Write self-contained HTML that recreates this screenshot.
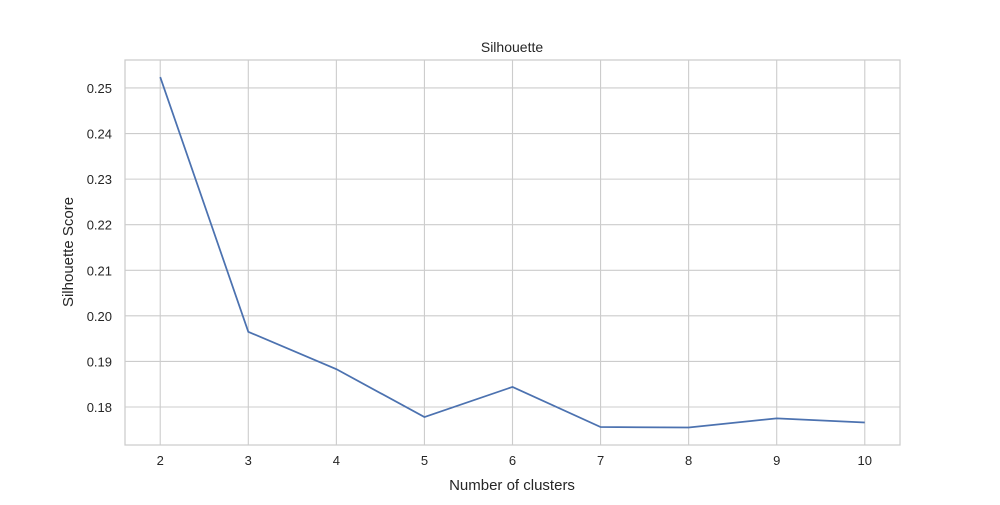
<!DOCTYPE html>
<html><head><meta charset="utf-8"><style>
body{margin:0;background:#fff;}
svg text{font-family:"Liberation Sans",sans-serif;fill:#262626;}
</style></head><body>
<svg id="chart" width="1000" height="500">
<rect x="0" y="0" width="1000" height="500" fill="#fff"/>
<g id="grid"></g>
<rect x="125" y="60" width="775" height="385" fill="none" stroke="#cccccc" stroke-width="1.25"/>
<g id="ticks"></g>
<path id="line" fill="none" stroke="#4c72b0" stroke-width="1.75"/>
<text x="512" y="52" text-anchor="middle" font-size="14">Silhouette</text>
<text x="512" y="490" text-anchor="middle" font-size="15">Number of clusters</text>
<text x="0" y="0" transform="translate(73,252) rotate(-90)" text-anchor="middle" font-size="15">Silhouette Score</text>
</svg>
<script>
const clusters=[2,3,4,5,6,7,8,9,10];
const scores=[0.2524,0.1965,0.1883,0.1778,0.1844,0.1756,0.1755,0.1775,0.1766];
const yTicks=[0.18,0.19,0.20,0.21,0.22,0.23,0.24,0.25];
const yTickLabels=["0.18","0.19","0.20","0.21","0.22","0.23","0.24","0.25"];
const L=125,R=900,T=60,B=445;
const xMin=1.6,xMax=10.4,yMin=0.17166,yMax=0.25614;
const x=v=>L+(v-xMin)/(xMax-xMin)*(R-L);
const y=v=>B-(v-yMin)/(yMax-yMin)*(B-T);
const ns="http://www.w3.org/2000/svg";
const grid=document.getElementById('grid'),ticks=document.getElementById('ticks');
function mk(tag,attrs,parent){const e=document.createElementNS(ns,tag);for(const k in attrs)e.setAttribute(k,attrs[k]);parent.appendChild(e);return e;}
clusters.forEach(c=>{
 const g=mk('line',{x1:x(c),x2:x(c),y1:T,y2:B,stroke:'#cccccc','stroke-width':1.1},grid);
 
 
 const t=mk('text',{x:x(c),y:B+20,'text-anchor':'middle','font-size':13},ticks);
 t.textContent=c;
 
 
});
yTicks.forEach((v,i)=>{
 const g=mk('line',{x1:L,x2:R,y1:y(v),y2:y(v),stroke:'#cccccc','stroke-width':1.1},grid);
 
 
 const t=mk('text',{x:L-13,y:y(v)+5,'text-anchor':'end','font-size':13},ticks);
 t.textContent=yTickLabels[i];
 
 
});
document.getElementById('line').setAttribute('d',clusters.map((c,i)=>(i?'L':'M')+x(c)+','+y(scores[i])).join(' '));
</script>
</body></html>
